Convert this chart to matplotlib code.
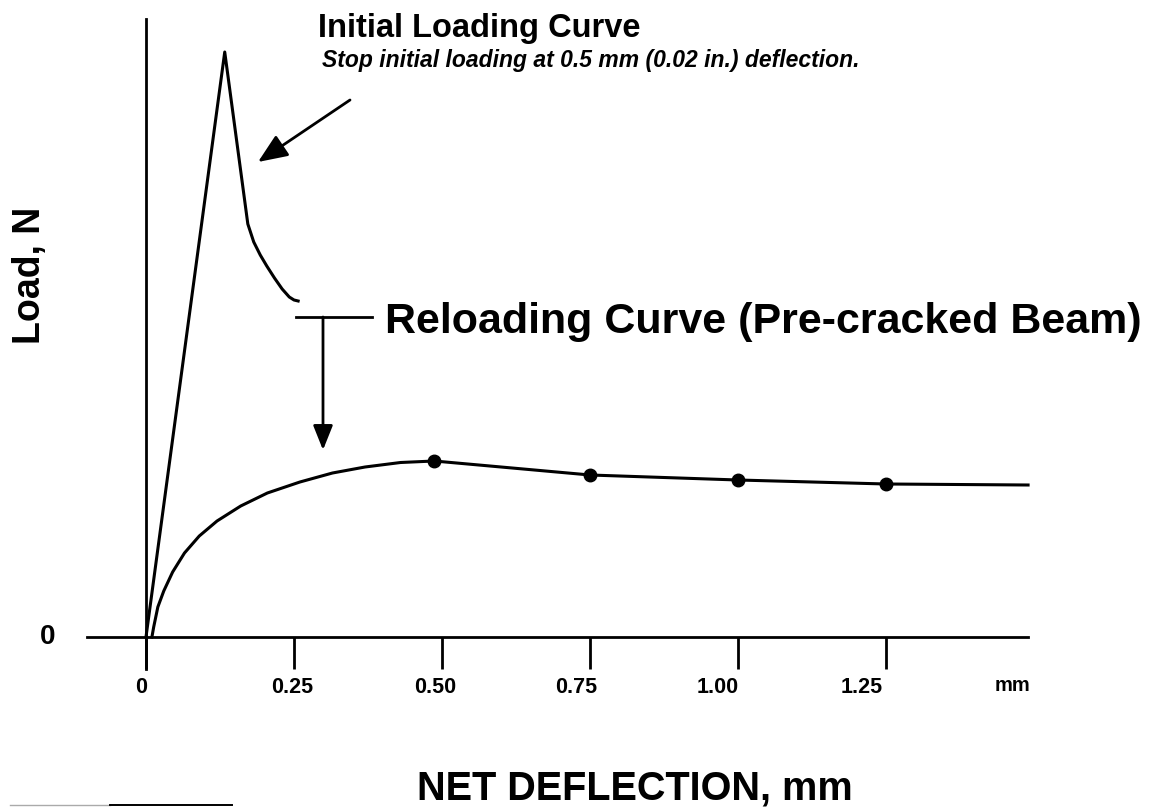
import matplotlib
matplotlib.use("Agg")
import matplotlib.pyplot as plt
from matplotlib.transforms import ScaledTranslation
import numpy as np

# ---- data (deflection in mm, load in arbitrary units) ----
initial_x = [0.0, 0.133, 0.172, 0.182, 0.193, 0.204, 0.217, 0.230, 0.242, 0.250, 0.257]
initial_y = [0.0, 5.85, 4.13, 3.95, 3.82, 3.71, 3.59, 3.48, 3.40, 3.37, 3.36]

reload_x = [0.010, 0.013, 0.020, 0.030, 0.045, 0.065, 0.090, 0.120, 0.160,
            0.205, 0.260, 0.315, 0.370, 0.430, 0.487,
            0.75, 1.00, 1.25, 1.49]
reload_y = [0.00, 0.10, 0.30, 0.46, 0.65, 0.84, 1.01, 1.16, 1.31,
            1.44, 1.55, 1.64, 1.70, 1.745, 1.76,
            1.62, 1.57, 1.53, 1.52]

dot_x = [0.487, 0.75, 1.00, 1.25]
dot_y = [1.76, 1.62, 1.57, 1.53]

xticks = [0, 0.25, 0.50, 0.75, 1.00, 1.25]
xtick_labels = ["0", "0.25", "0.50", "0.75", "1.00", "1.25"]

W, H, DPI = 1163, 812, 100
X0, PXMM = 146.0, 592.0   # pixel of x=0, pixels per mm
Y0, PXU = 638.0, 100.0    # pixel of y=0, pixels per load unit
label_shift_px = [-5, -2, -7, -14, -20, -24]

plt.rcParams['font.family'] = ['Liberation Sans', 'DejaVu Sans']

fig = plt.figure(figsize=(W / DPI, H / DPI), dpi=DPI)
ax = fig.add_axes([0, 0, 1, 1])
ax.set_xlim(-X0 / PXMM, (W - X0) / PXMM)
ax.set_ylim((Y0 - H) / PXU, Y0 / PXU)
ax.patch.set_alpha(0)

def px(x, y):
    return (x / W, 1 - y / H)

# spines as axis lines
for s in ['top', 'right']:
    ax.spines[s].set_visible(False)
ax.spines['left'].set_position(('data', 0))
ax.spines['bottom'].set_position(('data', 0))
ax.spines['left'].set_bounds((Y0 - 670) / PXU, (Y0 - 20) / PXU)
ax.spines['bottom'].set_bounds((87 - X0) / PXMM, (1028 - X0) / PXMM)
ax.spines['left'].set_linewidth(2.0)
ax.spines['bottom'].set_linewidth(2.0)

ax.set_xticks(xticks)
ax.set_xticklabels(xtick_labels, fontsize=15.5, fontweight='bold')
ax.tick_params(axis='x', direction='out', length=23, width=2.0, pad=5)
for lab, dx in zip(ax.get_xticklabels(), label_shift_px):
    lab.set_transform(lab.get_transform() +
                      ScaledTranslation(dx / DPI, 0, fig.dpi_scale_trans))
ax.set_yticks([])

# curves
ax.plot(initial_x, initial_y, color='black', lw=2.2, solid_joinstyle='round')
ax.plot(reload_x, reload_y, color='black', lw=2.2, solid_joinstyle='round')
ax.plot(dot_x, dot_y, 'o', color='black', markersize=9)

# arrows
ax.annotate('', xy=((258 - X0) / PXMM, (Y0 - 163) / PXU),
            xytext=((350 - X0) / PXMM, (Y0 - 101) / PXU),
            arrowprops=dict(arrowstyle='-|>,head_length=1.8,head_width=0.75',
                            color='black', lw=2.0, shrinkA=0, shrinkB=0))
ax.plot([(296 - X0) / PXMM, (372 - X0) / PXMM], [(Y0 - 318) / PXU] * 2,
        color='black', lw=2.0)
ax.annotate('', xy=((323 - X0) / PXMM, (Y0 - 451) / PXU),
            xytext=((323 - X0) / PXMM, (Y0 - 318) / PXU),
            arrowprops=dict(arrowstyle='-|>,head_length=1.5,head_width=0.6',
                            color='black', lw=2.0, shrinkA=0, shrinkB=0))

# texts
fig.text(*px(318, 37), "Initial Loading Curve", fontsize=23.5, fontweight='bold',
         ha='left', va='baseline')
fig.text(*px(322, 67), "Stop initial loading at 0.5 mm (0.02 in.) deflection.",
         fontsize=16.5, style='italic', fontweight='bold', ha='left', va='baseline')
fig.text(*px(385, 333), "Reloading Curve (Pre-cracked Beam)", fontsize=31,
         fontweight='bold', ha='left', va='baseline')
fig.text(*px(30, 275), "Load, N", fontsize=27, fontweight='bold', rotation=90,
         ha='center', va='center')
fig.text(*px(48, 637), "0", fontsize=20, fontweight='bold', ha='center', va='center')
fig.text(*px(1013, 686), "mm", fontsize=14.5, fontweight='bold', ha='center', va='center')
fig.text(*px(635, 789), "NET DEFLECTION, mm", fontsize=28.5, fontweight='bold',
         ha='center', va='center')

# scan-edge rule at bottom left
fig.add_artist(plt.Line2D([10 / W, 110 / W], [1 - 806 / H] * 2, color='#aaaaaa', lw=1.0))
fig.add_artist(plt.Line2D([110 / W, 232 / W], [1 - 806 / H] * 2, color='black', lw=1.4))

fig.savefig("out.png", dpi=DPI, facecolor='white')
